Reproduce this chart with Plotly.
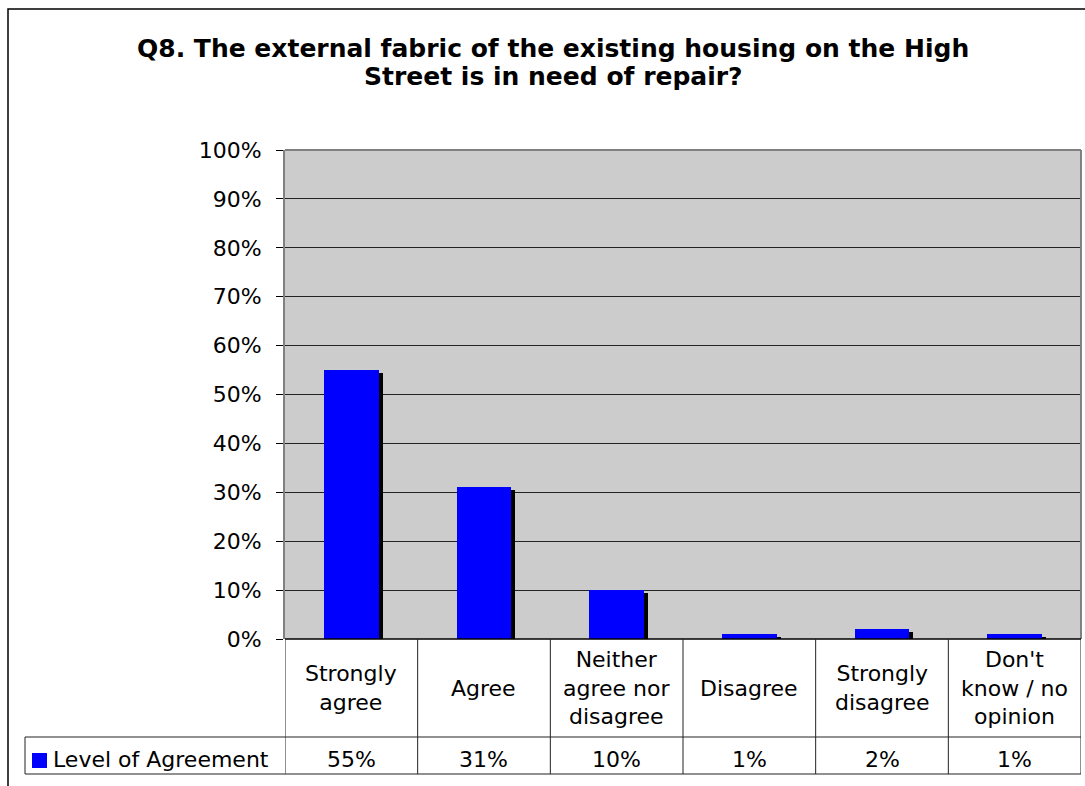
import plotly.graph_objects as go

# Survey responses for Q8
categories = ["Strongly<br>agree", "Agree", "Neither<br>agree nor<br>disagree",
              "Disagree", "Strongly<br>disagree", "Don't<br>know / no<br>opinion"]
values = [55, 31, 10, 1, 2, 1]
series_name = "Level of Agreement"
title_lines = ["Q8. The external fabric of the existing housing on the High",
               "Street is in need of repair?"]
y_ticks = list(range(0, 101, 10))

W, H = 1085, 786
FONT = "DejaVu Sans"
FS = 22
TITLE_FS = 25

# pixel helpers for layout placement (margins are zero, so paper == page)
def px(x):
    return x / W

def py(y):
    return (H - y) / H

plot_left, plot_right = 285, 1081
plot_top, plot_bottom = 150, 639
row1_bottom, row2_bottom = 737, 774

bar_w = 0.41
shadow_dx = 0.03
shadow_dy = 100 * 3 / (plot_bottom - plot_top)

x_idx = list(range(len(categories)))

fig = go.Figure()
# drop shadow behind each bar
fig.add_trace(go.Bar(
    x=x_idx, y=values, base=[-shadow_dy] * len(values),
    width=bar_w, offset=-bar_w / 2 + shadow_dx,
    marker=dict(color="#000000", line=dict(width=0)),
    hoverinfo="skip", showlegend=False,
))
fig.add_trace(go.Bar(
    x=x_idx, y=values, name=series_name,
    width=bar_w, offset=-bar_w / 2,
    marker=dict(color="#0000FF", line=dict(width=0)),
    showlegend=False,
))

shapes = []
line_dark = dict(color="#222222", width=1)
# plot area top / right border
shapes.append(dict(type="line", xref="paper", yref="paper",
                   x0=px(plot_left), x1=px(plot_right), y0=py(plot_top), y1=py(plot_top),
                   line=dict(color="#808080", width=2)))
shapes.append(dict(type="line", xref="paper", yref="paper",
                   x0=px(plot_right), x1=px(plot_right), y0=py(plot_top), y1=py(plot_bottom),
                   line=dict(color="#808080", width=2)))
# data table grid
shapes.append(dict(type="line", xref="paper", yref="paper",
                   x0=px(plot_left), x1=px(plot_right), y0=py(plot_bottom), y1=py(plot_bottom),
                   line=dict(color="#000000", width=1.5)))
shapes.append(dict(type="line", xref="paper", yref="paper",
                   x0=px(25), x1=px(plot_right), y0=py(row1_bottom), y1=py(row1_bottom),
                   line=line_dark))
shapes.append(dict(type="line", xref="paper", yref="paper",
                   x0=px(25), x1=px(plot_right), y0=py(row2_bottom), y1=py(row2_bottom),
                   line=line_dark))
shapes.append(dict(type="line", xref="paper", yref="paper",
                   x0=px(25), x1=px(25), y0=py(row1_bottom), y1=py(row2_bottom),
                   line=line_dark))
for k in range(len(categories) + 1):
    shapes.append(dict(type="line", xref="x", yref="paper",
                       x0=k - 0.5, x1=k - 0.5, y0=py(plot_bottom), y1=py(row2_bottom),
                       line=line_dark))
# legend key
shapes.append(dict(type="rect", xref="paper", yref="paper",
                   x0=px(32), x1=px(47), y0=py(768), y1=py(753),
                   fillcolor="#0000FF", line=dict(width=0)))
# outer chart border
shapes.append(dict(type="rect", xref="paper", yref="paper",
                   x0=px(8), x1=px(1100), y0=py(800), y1=py(9),
                   line=dict(color="#000000", width=1.5), fillcolor="rgba(0,0,0,0)"))

annotations = []
for line, yc in zip(title_lines, [49.5, 77]):
    annotations.append(dict(text=f"<b>{line}</b>", xref="paper", yref="paper",
                            x=px(553), y=py(yc), xanchor="center", yanchor="middle",
                            height=27.5, showarrow=False, align="center",
                            font=dict(family=FONT, size=TITLE_FS, color="#000000")))
for i, (c, v) in enumerate(zip(categories, values)):
    annotations.append(dict(text=c, xref="x", yref="paper", x=i, y=py(688),
                            xanchor="center", yanchor="middle", showarrow=False,
                            align="center", font=dict(family=FONT, size=FS, color="#000000")))
    annotations.append(dict(text=f"{v}%", xref="x", yref="paper", x=i, y=py(759),
                            xanchor="center", yanchor="middle", showarrow=False,
                            font=dict(family=FONT, size=FS, color="#000000")))
annotations.append(dict(text=series_name, xref="paper", yref="paper", x=px(51), y=py(759),
                        xanchor="left", yanchor="middle", showarrow=False,
                        font=dict(family=FONT, size=FS, color="#000000")))

fig.update_layout(
    width=W, height=H,
    margin=dict(l=0, r=0, t=0, b=0, pad=0),
    paper_bgcolor="#FFFFFF",
    plot_bgcolor="#CCCCCC",
    barmode="overlay",
    bargap=0,
    font=dict(family=FONT, size=FS, color="#000000"),
    xaxis=dict(domain=[px(plot_left), px(plot_right)], range=[-0.5, len(categories) - 0.5],
               showticklabels=False, ticks="", showgrid=False, zeroline=False,
               showline=False, fixedrange=True, automargin=False),
    yaxis=dict(domain=[py(plot_bottom), py(plot_top)], range=[0, 100],
               tickvals=y_ticks, ticktext=[f"{t}%" for t in y_ticks],
               ticks="outside", ticklen=7, tickcolor="#000000", tickwidth=1,
               ticklabelstandoff=10, automargin=False,
               showgrid=True, gridcolor="#222222", gridwidth=1,
               zeroline=False, showline=True, linecolor="#808080", linewidth=2,
               tickfont=dict(family=FONT, size=FS, color="#000000"), fixedrange=True),
    shapes=shapes,
    annotations=annotations,
    showlegend=False,
)

fig.write_html("out.html")
